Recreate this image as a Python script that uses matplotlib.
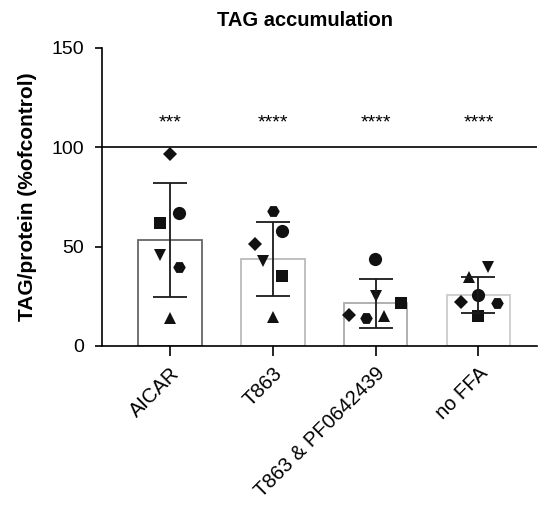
import numpy as np
import matplotlib
matplotlib.use("Agg")
import matplotlib.pyplot as plt

plt.rcParams['font.family'] = ['Liberation Sans', 'DejaVu Sans']

groups = ["AICAR", "T863", "T863 & PF0642439", "no FFA"]
means = [53.3, 43.7, 21.4, 25.5]
sd = [28.5, 18.5, 12.2, 9.0]
stars = ["***", "****", "****", "****"]
edge_colors = ["#666666", "#bbbbbb", "#aaaaaa", "#cccccc"]

markers = ["D", "o", "s", "v", "H", "^"]
# one replicate per marker, in order: diamond, circle, square, down-tri, hexagon, up-tri
points = {
    "AICAR": [96.5, 67.0, 62.0, 45.7, 39.7, 14.2],
    "T863": [51.3, 57.8, 35.2, 42.9, 68.0, 14.7],
    "T863 & PF0642439": [15.7, 43.7, 21.4, 25.1, 13.9, 15.0],
    "no FFA": [22.3, 25.8, 15.0, 39.8, 21.8, 34.5],
}
# horizontal offsets of the scattered points (in bar units)
offsets = {
    "AICAR": [0.0, 0.09, -0.09, -0.09, 0.09, 0.0],
    "T863": [-0.17, 0.09, 0.09, -0.09, 0.0, 0.0],
    "T863 & PF0642439": [-0.26, -0.01, 0.25, 0.0, -0.09, 0.08],
    "no FFA": [-0.17, 0.0, 0.0, 0.09, 0.18, -0.09],
}
msizes = {"D": 7.5, "o": 9.5, "s": 8.5, "v": 8.5, "H": 9.0, "^": 8.5}

fig = plt.figure(figsize=(5.47, 5.08), dpi=100)
ax = fig.add_axes([0.186, 0.319, 0.796, 0.587])

x = np.arange(len(groups))
ax.bar(x, means, width=0.62, color="white", edgecolor=edge_colors, linewidth=1.3, zorder=1)

for i, g in enumerate(groups):
    for j, m in enumerate(markers):
        ax.plot(x[i] + offsets[g][j], points[g][j], marker=m, color="#111111",
                markersize=msizes[m], markeredgewidth=0, linestyle="none", zorder=3)

ax.errorbar(x, means, yerr=sd, fmt="none", ecolor="#1a1a1a", elinewidth=1.3,
            capsize=12, capthick=1.3, zorder=4)

ax.axhline(100, color="black", linewidth=1.2, zorder=2)

for i, s in enumerate(stars):
    ax.text(x[i], 112, s, ha="center", va="center", fontsize=14)

ax.set_xlim(-0.66, 3.57)
ax.set_ylim(0, 150)
ax.set_yticks([0, 50, 100, 150])
ax.set_xticks(x)
ax.set_xticklabels(groups, rotation=45, ha="right", rotation_mode="anchor", fontsize=14.5)
ax.tick_params(axis="y", labelsize=14, length=5, width=1.2, pad=8)
ax.tick_params(axis="x", length=7, width=1.2, pad=6)
for s in ["top", "right"]:
    ax.spines[s].set_visible(False)
for s in ["left", "bottom"]:
    ax.spines[s].set_linewidth(1.2)

ax.set_ylabel("TAG/protein (%ofcontrol)", fontsize=15, fontweight="bold", labelpad=10)
fig.text(0.558, 0.96, "TAG accumulation", fontsize=14.5, fontweight="bold",
         ha="center", va="center")

fig.savefig("out.png", dpi=100)
